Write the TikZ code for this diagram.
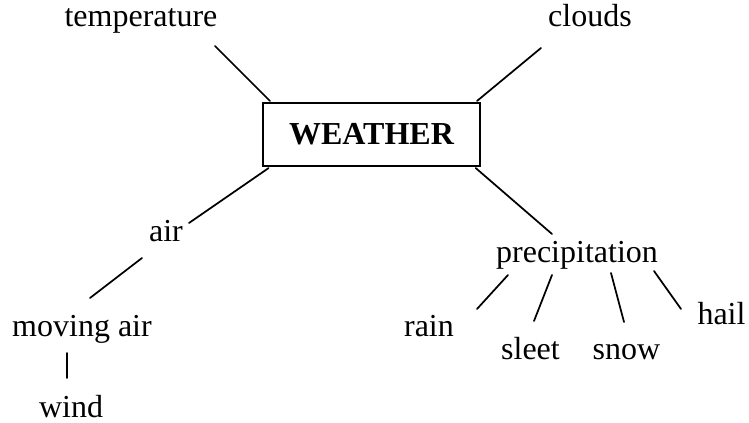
\documentclass[tikz,border=0pt]{standalone}
\usepackage{fontspec}
\setmainfont{Liberation Serif}
\begin{document}
\begin{tikzpicture}[x=0.75pt,y=-0.75pt,
  lbl/.style={inner sep=0pt,anchor=base,font=\fontsize{24}{28}\selectfont},
  conn/.style={line width=1.3pt,line cap=round},
  mainbox/.style={draw,line width=1.6pt,minimum width=162.75pt,minimum height=47.25pt,inner sep=0pt,font=\fontsize{24}{28}\selectfont\bfseries}]
\useasboundingbox (0,0) rectangle (749,423);
\node[mainbox] (weather) at (371.5,134.5) {WEATHER};
\node[lbl] (temperature) at (141,27) {temperature};
\node[lbl] (clouds) at (590,27) {clouds};
\node[lbl] (air) at (166,242) {air};
\node[lbl] (precip) at (577,263) {precipitation};
\node[lbl] (moving) at (82,337) {moving air};
\node[lbl] (wind) at (71,417) {wind};
\node[lbl] (rain) at (429,337) {rain};
\node[lbl] (sleet) at (530.5,360) {sleet};
\node[lbl] (snow) at (626.5,360) {snow};
\node[lbl] (hail) at (721.5,325) {hail};
% connector ends
\coordinate (tE) at (215,46);
\coordinate (cE) at (541,48);
\coordinate (aE1) at (189,223);
\coordinate (aE2) at (142,258);
\coordinate (mE1) at (90,298);
\coordinate (mE2) at (67,353);
\coordinate (wE) at (67,378);
\coordinate (pE) at (552,234);
\coordinate (pR) at (508,275);
\coordinate (rE) at (477,309);
\coordinate (pS) at (552,275);
\coordinate (sE) at (534,321);
\coordinate (pN) at (611,273);
\coordinate (nE) at (624,322);
\coordinate (pH) at (654,271);
\coordinate (hE) at (681,309);
\draw[conn] (tE) -- ([xshift=6pt,yshift=0.75pt]weather.north west);
\draw[conn] (cE) -- ([xshift=-3pt,yshift=0.75pt]weather.north east);
\draw[conn] ([xshift=5pt,yshift=-0.75pt]weather.south west) -- (aE1);
\draw[conn] ([xshift=-4pt,yshift=-0.75pt]weather.south east) -- (pE);
\draw[conn] (aE2) -- (mE1);
\draw[conn] (mE2) -- (wE);
\draw[conn] (pR) -- (rE);
\draw[conn] (pS) -- (sE);
\draw[conn] (pN) -- (nE);
\draw[conn] (pH) -- (hE);
\end{tikzpicture}
\end{document}
